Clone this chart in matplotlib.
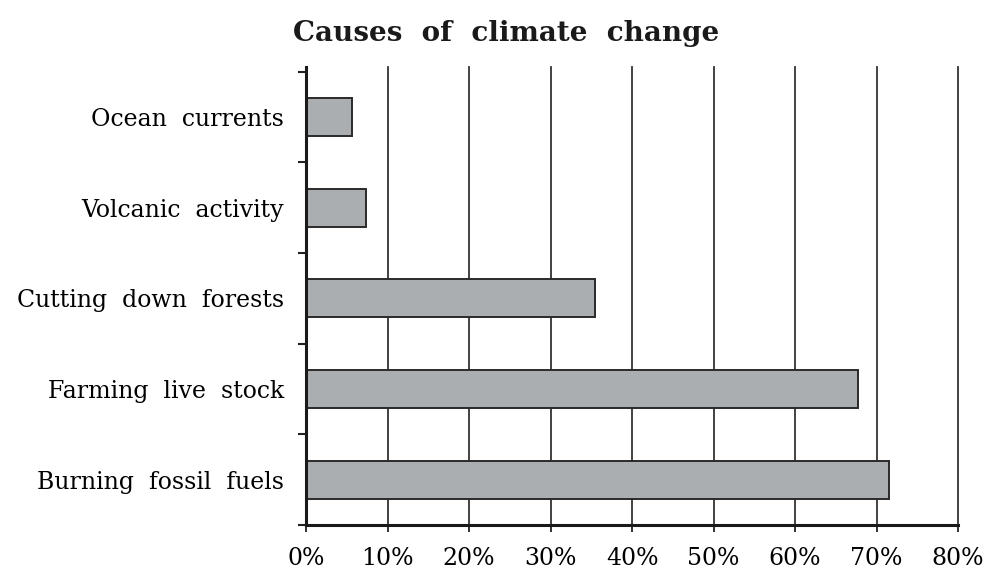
import numpy as np
import matplotlib
matplotlib.use("Agg")
import matplotlib.pyplot as plt

causes = ["Burning fossil fuels", "Farming live stock", "Cutting down forests",
          "Volcanic activity", "Ocean currents"]
shares = [71.5, 67.7, 35.5, 7.4, 5.6]
x_ticks = [0, 10, 20, 30, 40, 50, 60, 70, 80]
x_labels = [f"{t}%" for t in x_ticks]

plt.rcParams['font.family'] = ['DejaVu Serif']

fig = plt.figure(figsize=(9.88, 5.71), dpi=100)
ax = fig.add_axes([306 / 988, 1 - 525 / 571, 652 / 988, 458 / 571])

pos = np.arange(len(causes))
ax.barh(pos, shares, height=0.42, color='#abaeb0', edgecolor='#2a2a2a',
        linewidth=1.4, zorder=3)

ax.set_xlim(0, 80)
ax.set_ylim(-0.5, 4.55)
ax.set_xticks(x_ticks)
ax.set_xticklabels(x_labels, fontsize=17)
ax.xaxis.grid(True, color='#333333', linewidth=1.3, zorder=0)
for gl in ax.get_xgridlines():
    gl.set_clip_on(False)

# category ticks sit between the bars, labels at the bar centres
ax.set_yticks(np.arange(-0.5, len(causes), 1.0))
ax.set_yticklabels([])
ax.set_yticks(pos, minor=True)
ax.set_yticklabels([c.replace(" ", "  ") for c in causes], minor=True, fontsize=17)
ax.tick_params(axis='y', which='major', direction='out', length=6, width=1.5, color='#222222')
ax.tick_params(axis='y', which='minor', length=0, pad=16)
ax.tick_params(axis='x', direction='out', length=5, width=1.3, color='#222222', pad=11)

for s in ['top', 'right']:
    ax.spines[s].set_visible(False)
for s in ['left', 'bottom']:
    ax.spines[s].set_linewidth(2.2)
    ax.spines[s].set_color('#1a1a1a')
    ax.spines[s].set_zorder(4)

fig.text(0.512, 0.918, "Causes  of  climate  change", ha='center', va='bottom',
         fontsize=20, fontweight='bold', color='#1a1a1a')

fig.savefig("out.png", dpi=100)
